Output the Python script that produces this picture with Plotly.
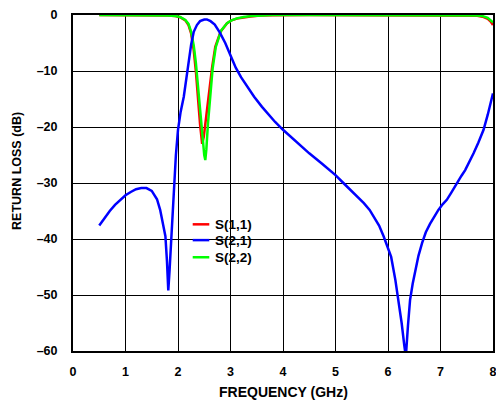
import plotly.graph_objects as go

# ---------------- data ----------------
s21_freq = [0.5, 0.6, 0.7, 0.8, 0.9, 1.0, 1.1, 1.2, 1.3, 1.4, 1.5, 1.6, 1.66, 1.72, 1.76,
            1.79, 1.815, 1.84, 1.87, 1.9, 1.93, 1.96, 2.0, 2.05, 2.11, 2.15, 2.2, 2.25, 2.3,
            2.36, 2.42, 2.5, 2.55, 2.62, 2.7, 2.8, 2.9, 3.0, 3.1, 3.2, 3.3, 3.45, 3.6, 3.7,
            3.85, 4.0, 4.25, 4.5, 4.75, 5.0, 5.15, 5.28, 5.4, 5.54, 5.65, 5.73, 5.83, 5.92,
            6.0, 6.06, 6.14, 6.2, 6.26, 6.31, 6.34, 6.38, 6.42, 6.47, 6.52, 6.58, 6.65, 6.72,
            6.8, 6.88, 6.96, 7.04, 7.12, 7.2, 7.31, 7.4, 7.47, 7.55, 7.63, 7.72, 7.82, 7.9,
            7.96, 8.0]
s21_db = [-37.6, -36.2, -35.0, -33.9, -33.0, -32.2, -31.6, -31.1, -30.9, -30.9, -31.4, -32.9,
          -34.8, -37.3, -39.5, -44.0, -49.2, -45.5, -40.5, -35.0, -29.5, -25.0, -20.5, -17.3,
          -14.6, -11.8, -8.1, -5.3, -3.0, -1.8, -1.1, -0.8, -0.8, -1.1, -1.7, -3.2, -5.0,
          -7.3, -9.4, -11.1, -12.6, -14.6, -16.4, -17.5, -19.1, -20.5, -22.6, -24.7, -26.6,
          -28.6, -30.0, -31.2, -32.3, -33.6, -34.8, -36.0, -37.6, -39.6, -41.5, -43.2, -47.3,
          -50.8, -55.0, -59.0, -61.0, -55.5, -50.9, -48.0, -45.5, -43.0, -40.7, -38.8, -37.3,
          -36.0, -34.8, -33.8, -33.0, -31.8, -30.0, -28.7, -27.7, -26.3, -24.7, -22.8, -20.5,
          -17.8, -15.5, -14.0]

s11_freq = [0.5, 1.0, 1.5, 1.8, 1.95, 2.04, 2.14, 2.2, 2.25, 2.3, 2.34, 2.38, 2.42, 2.46,
            2.49, 2.52, 2.58, 2.65, 2.71, 2.81, 2.93, 3.02, 3.12, 3.25, 3.38, 3.57, 3.8, 4.5,
            5.5, 6.5, 7.3, 7.6, 7.7, 7.8, 7.9, 7.96, 8.0]
s11_db = [0.0, 0.0, -0.02, -0.1, -0.2, -0.4, -0.95, -1.8, -3.3, -6.3, -10.0, -15.0, -19.5,
          -23.0, -21.8, -19.5, -14.6, -9.3, -5.7, -3.0, -1.5, -0.95, -0.65, -0.4, -0.25,
          -0.1, -0.03, 0.0, 0.0, 0.0, 0.0, -0.05, -0.12, -0.3, -0.7, -1.2, -1.8]

s22_freq = [0.5, 1.0, 1.5, 1.8, 1.95, 2.04, 2.14, 2.2, 2.25, 2.3, 2.34, 2.38, 2.42, 2.46,
            2.5, 2.52, 2.54, 2.57, 2.61, 2.66, 2.72, 2.82, 2.94, 3.02, 3.12, 3.25, 3.4, 3.6,
            3.8, 4.5, 5.5, 6.5, 7.3, 7.6, 7.7, 7.8, 7.9, 8.0]
s22_db = [0.0, 0.0, -0.02, -0.1, -0.2, -0.35, -0.9, -1.6, -3.0, -5.5, -8.5, -12.5, -17.0,
          -21.5, -25.0, -25.9, -24.0, -19.5, -14.5, -9.5, -5.7, -2.8, -1.4, -0.95, -0.6,
          -0.35, -0.2, -0.08, -0.02, 0.0, 0.0, 0.0, 0.0, -0.04, -0.08, -0.2, -0.5, -1.3]

series_names = ["S(1,1)", "S(2,1)", "S(2,2)"]
series_colors = ["#ff0000", "#0000ff", "#00ff00"]

x_ticks = [0, 1, 2, 3, 4, 5, 6, 7, 8]
y_ticks = [0, -10, -20, -30, -40, -50, -60]
y_tick_labels = ["0", "–10", "–20", "–30", "–40", "–50", "–60"]

FONT = "Liberation Sans, Arial, sans-serif"

fig = go.Figure()
fig.add_trace(go.Scatter(x=s11_freq, y=s11_db, mode="lines", name=series_names[0],
                         line=dict(color=series_colors[0], width=2.5)))
fig.add_trace(go.Scatter(x=s22_freq, y=s22_db, mode="lines", name=series_names[2],
                         line=dict(color=series_colors[2], width=2.5)))
fig.add_trace(go.Scatter(x=s21_freq, y=s21_db, mode="lines", name=series_names[1],
                         line=dict(color=series_colors[1], width=2.5)))

fig.update_layout(
    width=496, height=401,
    margin=dict(l=65, r=11, t=7, b=58, autoexpand=False),
    paper_bgcolor="white", plot_bgcolor="white",
    showlegend=False,
    font=dict(family=FONT, color="black"),
)
fig.update_xaxes(range=[0, 8], tickvals=x_ticks, showgrid=True, gridcolor="black",
                 gridwidth=1, showline=True, linecolor="black", linewidth=2, mirror=True,
                 ticks="", ticklabelstandoff=8, zeroline=False, automargin=False,
                 tickfont=dict(family=FONT, size=12.5, weight="bold", color="black"))
fig.update_yaxes(range=[-60, 0], tickvals=y_ticks, ticktext=y_tick_labels, showgrid=True,
                 gridcolor="black", gridwidth=1, showline=True, linecolor="black",
                 linewidth=2, mirror=True, ticks="", ticklabelstandoff=11, zeroline=False,
                 automargin=False,
                 tickfont=dict(family=FONT, size=12.5, weight="bold", color="black"))

# axis titles
fig.add_annotation(text="FREQUENCY (GHz)", xref="paper", yref="paper", x=0.5, y=-0.121,
                   showarrow=False, xanchor="center", yanchor="middle",
                   font=dict(family=FONT, size=14, weight="bold", color="black"))
fig.add_annotation(text="RETURN LOSS (dB)", xref="paper", yref="paper", x=-0.1333, y=0.536,
                   showarrow=False, xanchor="center", yanchor="middle", textangle=-90,
                   font=dict(family=FONT, size=12.5, weight="bold", color="black"))

# legend box (white background covering the grid)
fig.add_shape(type="rect", xref="paper", yref="paper", x0=0.274, x1=0.438, y0=0.247,
              y1=0.411, fillcolor="white", line=dict(width=0), layer="between")
legend_y = [0.377, 0.330, 0.279]
for name, color, ly in zip(series_names, series_colors, legend_y):
    fig.add_shape(type="line", xref="paper", yref="paper", x0=0.285, x1=0.3245, y0=ly,
                  y1=ly, line=dict(color=color, width=2.5))
    fig.add_annotation(text=name, xref="paper", yref="paper", x=0.3326, y=ly,
                       showarrow=False, xanchor="left", yanchor="middle",
                       font=dict(family=FONT, size=13.5, weight="bold", color="black"))

fig.write_html("out.html")
